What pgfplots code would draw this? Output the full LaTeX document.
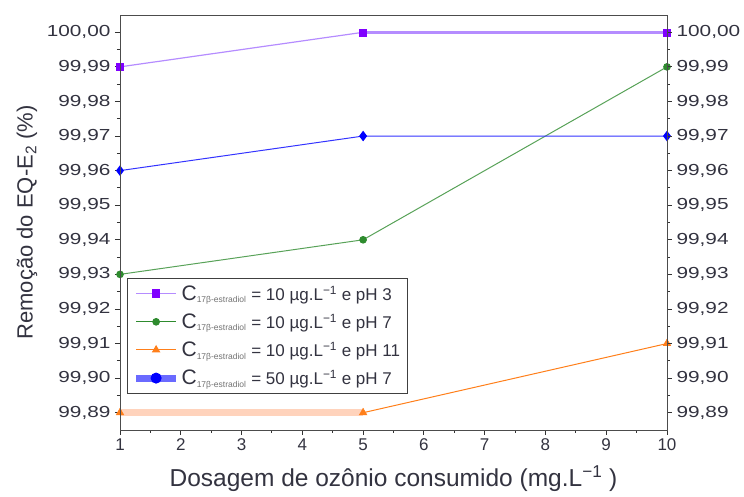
\documentclass[border=0pt]{standalone}
\usepackage{pgfplots}
\pgfplotsset{compat=1.18}
\usepackage{fontspec}
\setmainfont{Liberation Sans}
\definecolor{cpurple}{HTML}{8000FF}
\definecolor{cpurpleL}{HTML}{B58CFF}
\definecolor{cgreen}{HTML}{2E8B2E}
\definecolor{corange}{HTML}{FF7F1A}
\definecolor{corangeL}{HTML}{FFD3BC}
\definecolor{cblue}{HTML}{0000FF}
\definecolor{cblueL}{HTML}{6A6AFF}
\definecolor{ctext}{HTML}{333340}
\newcommand{\leg}[2]{{\fontsize{21bp}{21bp}\selectfont C}\textsubscript{\fontsize{8.5bp}{8.5bp}\selectfont\color{black!55}17β-estradiol} = #1 µg.L\textsuperscript{−1} e pH #2}
\pgfplotsset{
  common/.style={
    scale only axis, width=547bp, height=415bp,
    xmin=1, xmax=10, ymin=99.885, ymax=100.005,
    ytick={99.89,99.90,99.91,99.92,99.93,99.94,99.95,99.96,99.97,99.98,99.99,100.00},
    minor y tick num=1,
    tick align=outside,
    major tick length=5bp, minor tick length=3bp,
    axis line style={black!70, line width=0.9bp},
    every tick/.style={black!80, line width=0.9bp},
    /pgf/number format/assume math mode=true,
    yticklabel style={/pgf/number format/.cd, fixed, fixed zerofill, precision=2, use comma, 1000 sep={}, /tikz/.cd,
      font=\fontsize{16bp}{18bp}\selectfont, text=ctext, xscale=1.3},
    xticklabel style={font=\fontsize{17bp}{18bp}\selectfont, text=ctext},
  }
}
\begin{document}
\begin{tikzpicture}
\useasboundingbox (-120bp,-67bp) rectangle (624bp,430bp);
\begin{axis}[common,
  at={(0,0)}, anchor=south west,
  xtick={1,2,...,10}, minor x tick num=1,
  xtick pos=bottom, ytick pos=left,
  clip=false,
  xlabel={Dosagem de ozônio consumido (mg.L\textsuperscript{−1} )},
  xlabel style={font=\fontsize{24.5bp}{26bp}\selectfont, text=ctext, at={(axis description cs:0.5,-0.137)}, anchor=base},
  ylabel={Remoção do EQ-E\textsubscript{2} (\%)},
  ylabel style={font=\fontsize{22bp}{24bp}\selectfont, text=ctext, at={(axis description cs:-0.17,0.5)}, anchor=center},
  legend style={at={(axis description cs:0.013,0.366)}, anchor=north west, draw=black!75, line width=1bp,
    font=\fontsize{17bp}{18bp}\selectfont, text=ctext, row sep=8bp, inner sep=5bp},
  legend cell align=left,
  legend image code/.code={\draw[mark repeat=2,mark phase=2,#1] plot coordinates {(0bp,0bp) (20bp,0bp) (40bp,0bp)};},
]
% purple
\addplot[cpurpleL, line width=1.2bp, forget plot] coordinates {(1,99.99) (5,100.00)};
\addplot[cpurpleL, line width=3bp, forget plot] coordinates {(5,100.00) (10,100.00)};
\addplot[only marks, mark=square*, mark size=3.5bp, cpurple, forget plot] coordinates {(1,99.99) (5,100.00) (10,100.00)};
% green
\addplot[cgreen!80, line width=1bp, mark=*, mark size=3.3bp, mark options={fill=cgreen, draw=cgreen}, forget plot] coordinates {(1,99.93) (5,99.94) (10,99.99)};
% orange
\addplot[corangeL, line width=7bp, forget plot] coordinates {(1,99.89) (5,99.89)};
\addplot[corange, line width=1bp, forget plot] coordinates {(5,99.89) (10,99.91)};
\addplot[only marks, mark=triangle*, mark size=4.5bp, corange, forget plot] coordinates {(1,99.89) (5,99.89) (10,99.91)};
% blue
\addplot[cblue!80, line width=1bp, mark=diamond*, mark size=4.5bp, mark options={fill=cblue, draw=cblue}, forget plot] coordinates {(1,99.96) (5,99.97) (10,99.97)};
% legend
\addlegendimage{cpurpleL, line width=1.5bp, mark=square*, mark size=3.5bp, mark options={fill=cpurple, draw=cpurple}}
\addlegendentry{\leg{10}{3}}
\addlegendimage{cgreen, line width=1bp, mark=*, mark size=3.3bp}
\addlegendentry{\leg{10}{7}}
\addlegendimage{corange, line width=1bp, mark=triangle*, mark size=4bp}
\addlegendentry{\leg{10}{11}}
\addlegendimage{cblueL, line width=7bp, mark=*, mark size=5bp, mark options={fill=cblue, draw=cblue, line width=1bp}}
\addlegendentry{\leg{50}{7}}
\end{axis}
\begin{axis}[common,
  at={(0,0)}, anchor=south west,
  xtick=\empty, minor x tick num=0,
  ytick pos=right, yticklabel pos=right,
  yticklabel style={anchor=west},
]
\end{axis}
\end{tikzpicture}
\end{document}
